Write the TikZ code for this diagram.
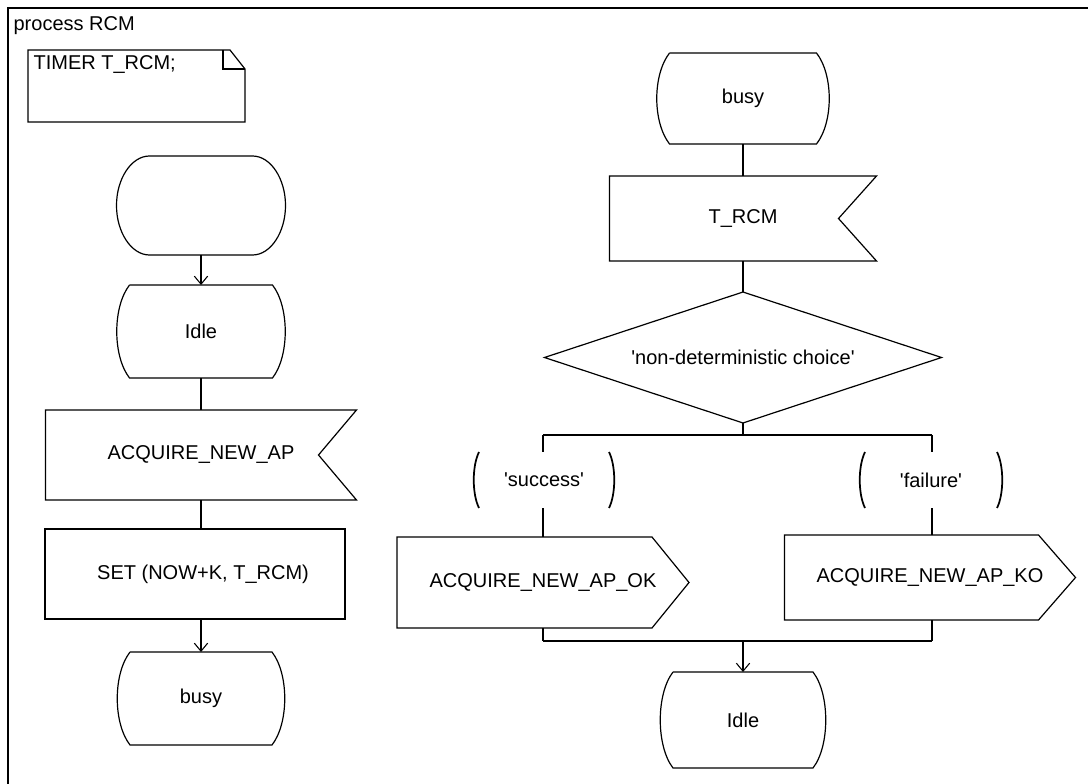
\documentclass[tikz,border=0pt]{standalone}
\usepackage{fontspec}
\setmainfont{Liberation Sans}
\usetikzlibrary{calc,arrows.meta}
\newcommand\statesym[1]{\draw (#1.north west) -- (#1.north east) .. controls +(17,22) and +(17,-22) .. (#1.south east) -- (#1.south west) .. controls +(-17,-22) and +(-17,22) .. (#1.north west);}
\newcommand\startsym[1]{\draw (#1.north west) -- (#1.north east) .. controls +(18,0) and +(0,-27) .. ($(#1.east)+(33,0)$) .. controls +(0,27) and +(18,0) .. (#1.south east) -- (#1.south west) .. controls +(-18,0) and +(0,27) .. ($(#1.west)+(-33,0)$) .. controls +(0,-27) and +(-18,0) .. (#1.north west);}
\newcommand\inputsym[2]{\draw (#1.north west) -- (#1.north east) -- ($(#1.east)+(-#2,0)$) -- (#1.south east) -- (#1.south west) -- cycle;}
\newcommand\outputsym[2]{\draw (#1.north west) -- ($(#1.north east)+(-#2,0)$) -- (#1.east) -- ($(#1.south east)+(-#2,0)$) -- (#1.south west) -- cycle;}
\newcommand\answersym[1]{\draw[line width=1.3pt] (#1.north west) .. controls +(-7,14) and +(-7,-14) .. (#1.south west);
  \draw[line width=1.3pt] (#1.north east) .. controls +(7,14) and +(7,-14) .. (#1.south east);}
\begin{document}
\begin{tikzpicture}[x=0.75pt,y=-0.75pt,line width=0.9pt,
  font=\fontsize{15}{18}\selectfont,
  sym/.style={draw=none,inner sep=0pt,outer sep=0pt},
  sz/.style 2 args={minimum width=#1*0.75pt,minimum height=#2*0.75pt},
  arr/.style={-{Straight Barb[length=6pt,width=10pt,line width=0.8pt]}}]
\useasboundingbox (0,0) rectangle (1088,784);
% frame
\draw[line width=1.4pt] (8,784) -- (8,8) -- (1088,8);
\node[anchor=base west,inner sep=0pt] (title) at (13,31) {process RCM};
% text symbol
\draw (28,50) -- (230,50) -- (245,69) -- (245,122) -- (28,122) -- cycle;
\draw (223,50) -- (223,69) -- (245,69);
\node[anchor=base west,inner sep=0pt] (timer) at (33,70) {TIMER T\_RCM;};
% left column
\node[sym,sz={103}{99}] (start) at (201,205.5) {};
\startsym{start}
\node[sym,sz={143}{93}] (idleA) at (201,331.5) {Idle};
\statesym{idleA}
\node[sym,sz={311}{90}] (acq) at (201,455) {ACQUIRE\_NEW\_AP};
\inputsym{acq}{38}
\node[sym,sz={300}{90}] (set) at (195,574) {\hspace*{12pt}SET (NOW+K, T\_RCM)};
\draw (set.north west) rectangle (set.south east);
\node[sym,sz={142}{93}] (busyA) at (201,698.5) {busy};
\statesym{busyA}
\draw[arr] (start.south) -- (idleA.north);
\draw (idleA.south) -- (acq.north);
\draw (acq.south) -- (acq.south |- set.north);
\draw[arr] (acq.south |- set.south) -- (busyA.north);
% right column
\node[sym,sz={147}{91}] (busyB) at (743,98.5) {busy};
\statesym{busyB}
\node[sym,sz={267}{85}] (trcm) at (743,218.5) {T\_RCM};
\inputsym{trcm}{38}
\node[sym,sz={397}{131}] (dec) at (743,357.5) {\textquotesingle non-deterministic choice\textquotesingle};
\draw (dec.north) -- (dec.east) -- (dec.south) -- (dec.west) -- cycle;
\coordinate (bC) at (743,435);
\coordinate (bL) at (543,435);
\coordinate (bR) at (932,435);
\node[sym,sz={130}{56}] (ans1) at (544,480) {\textquotesingle success\textquotesingle};
\answersym{ans1}
\node[sym,sz={132}{56}] (ans2) at (931,480) {\textquotesingle failure\textquotesingle};
\answersym{ans2}
\node[sym,sz={292}{91}] (ok) at (543,582.5) {ACQUIRE\_NEW\_AP\_OK};
\outputsym{ok}{37}
\node[sym,sz={291}{85}] (ko) at (930,577.5) {ACQUIRE\_NEW\_AP\_KO};
\outputsym{ko}{37}
\coordinate (mL) at (543,641);
\coordinate (mR) at (932,641);
\coordinate (mC) at (743,641);
\node[sym,sz={140}{96}] (idleB) at (743,720) {Idle};
\statesym{idleB}
\draw (busyB.south) -- (trcm.north);
\draw (trcm.south) -- (dec.north);
\draw (dec.south) -- (bC);
\draw (bL) -- (bR);
\draw (bL) -- (bL |- ans1.north);
\draw (bL |- ans1.south) -- (bL |- ok.north);
\draw (bL |- ok.south) -- (mL);
\draw (bR) -- (bR |- ans2.north);
\draw (bR |- ans2.south) -- (bR |- ko.north);
\draw (bR |- ko.south) -- (mR);
\draw (mL) -- (mR);
\draw[arr] (mC) -- (idleB.north);
\end{tikzpicture}
\end{document}
